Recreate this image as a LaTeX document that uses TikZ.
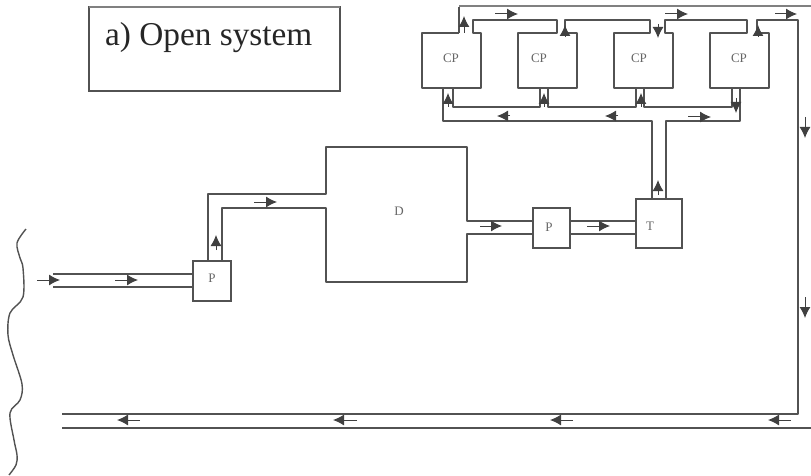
\documentclass[tikz,border=0pt]{standalone}
\usepackage{fontspec}
\setmainfont{Liberation Serif}
\usetikzlibrary{arrows.meta}
\tikzset{
  pipe/.style={draw=black!68,line width=1.6pt,line join=round},
  toppipe/.style={draw=black!50,line width=2.4pt,line join=round},
  flow/.style={draw=black!75,line width=1pt,-{Latex[length=11pt,width=11pt]}},
  unitbox/.style={draw=black!68,line width=1.6pt,inner sep=0pt,outer sep=0pt},
  unitlabel/.style={text=black!60,font=\fontsize{13}{13}\selectfont,inner sep=0pt},
  wave/.style={draw=black!68,line width=1.4pt,line join=round}
}
\begin{document}
\begin{tikzpicture}[x=1pt,y=-1pt]
\useasboundingbox (0,0) rectangle (811,476);
% title box
\node[unitbox,minimum width=251pt,minimum height=84pt,anchor=north west] (title) at (89,7) {};
\draw[toppipe] (title.north west) -- (title.north east);
\node[anchor=base west,inner sep=0pt,text=black!85,font=\fontsize{33.3}{33.3}\selectfont] (titletext) at (105,46) {a) Open system};
% wavy boundary
\draw[wave] plot[smooth,tension=0.55] coordinates {(26,229) (17,243) (20,258) (23,268) (23,297) (10,313) (8,335) (13,355) (22,384) (20,400) (10,413) (14,440) (17,455) (16,465) (9,475)};
% unit boxes
\node[unitbox,minimum width=38pt,minimum height=40pt,anchor=north west] (p1) at (193,261) {};
\node[unitbox,minimum width=37pt,minimum height=40pt,anchor=north west] (p2) at (533,208) {};
\node[unitbox,minimum width=46pt,minimum height=49pt,anchor=north west] (t) at (636,199) {};
\node[unitlabel] (p1text) at (212,278) {P};
\node[unitlabel] (p2text) at (549,227) {P};
\node[unitlabel] (ttext) at (650,226) {T};
\node[unitlabel] (d) at (399,211) {D};
\node[unitlabel] (cp1) at (451,58) {CP};
\node[unitlabel] (cp2) at (539,58) {CP};
\node[unitlabel] (cp3) at (639,58) {CP};
\node[unitlabel] (cp4) at (739,58) {CP};
% inlet
\draw[pipe] (53,274) -- (p1.west |- 0,274);
\draw[pipe] (53,287) -- (p1.west |- 0,287);
% P1 to D
\draw[pipe] (208,261) -- (208,194) -- (326,194) -- (326,147) -- (467,147) -- (467,221) -- (533,221);
\draw[pipe] (222,261) -- (222,208) -- (326,208) -- (326,282) -- (467,282) -- (467,234) -- (533,234);
% P2 to T
\draw[pipe] (570,221) -- (636,221);
\draw[pipe] (570,234) -- (636,234);
% T to CP manifold
\draw[pipe] (652,199) -- (652,121) -- (443,121) -- (443,88);
\draw[pipe] (666,199) -- (666,121) -- (740,121) -- (740,88);
\draw[pipe] (453,88) -- (453,107) -- (540,107) -- (540,88);
\draw[pipe] (548,88) -- (548,107) -- (636,107) -- (636,88);
\draw[pipe] (644,88) -- (644,107) -- (732,107) -- (732,88);
% CP outlines and header chain
\draw[pipe] (459,33) -- (422,33) -- (422,88) -- (481,88) -- (481,33) -- (473,33) -- (473,20) -- (557,20) -- (557,33) -- (518,33) -- (518,88) -- (577,88) -- (577,33) -- (565,33) -- (565,20) -- (650,20) -- (650,33) -- (614,33) -- (614,88) -- (673,88) -- (673,33) -- (665,33) -- (665,20) -- (747,20) -- (747,33) -- (710,33) -- (710,88) -- (769,88) -- (769,33) -- (757,33) -- (757,20) -- (798,20) -- (798,414) -- (62,414);
\draw[pipe] (459,33) -- (459,7);
\draw[toppipe] (459,6) -- (811,6);
\draw[pipe] (62,428) -- (811,428);
% flow arrows
\foreach \a/\b in {37/60,115/138}{\draw[flow] (\a,280) -- (\b,280);}
\draw[flow] (216,250) -- (216,235);
\draw[flow] (254,202) -- (277,202);
\foreach \a/\b in {480/502,587/610}{\draw[flow] (\a,226) -- (\b,226);}
\draw[flow] (658,195) -- (658,180);
\draw[flow] (688,117) -- (711,117);
\foreach \a/\b in {510/497,618/605}{\draw[flow] (\a,116) -- (\b,116);}
\foreach \a/\b in {495/518,665/688,775/797}{\draw[flow] (\a,14) -- (\b,14);}
\draw[flow] (464,33) -- (464,16);
\draw[flow] (565,37) -- (565,25);
\draw[flow] (658,24) -- (658,38);
\draw[flow] (758,37) -- (758,25);
\foreach \x in {448,544,641}{\draw[flow] (\x,107) -- (\x,93);}
\draw[flow] (736,98) -- (736,113);
\draw[flow] (805,117) -- (805,138);
\draw[flow] (805,297) -- (805,318);
\foreach \a/\b in {140/117,357/333,573/550,791/768}{\draw[flow] (\a,420) -- (\b,420);}
\end{tikzpicture}
\end{document}
